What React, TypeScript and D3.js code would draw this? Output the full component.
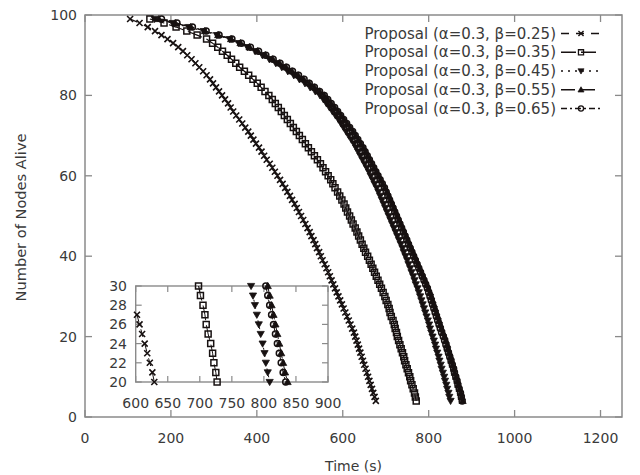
import React from 'react';
import * as d3 from 'd3';

// Number of nodes alive for each recorded death event (99 down to 4)
const nodesAlive: number[] = d3.range(99, 3, -1);

const labels = [
  'Proposal (α=0.3, β=0.25)',
  'Proposal (α=0.3, β=0.35)',
  'Proposal (α=0.3, β=0.45)',
  'Proposal (α=0.3, β=0.55)',
  'Proposal (α=0.3, β=0.65)',
];

// Time (s) at which the count drops to each value in nodesAlive
const timeB025 = [
  105, 127, 146, 163, 178, 192, 205,
  217, 228, 238, 248, 257, 266, 275, 283,
  291, 298, 305, 312, 319, 326, 333, 339, 345,
  352, 359, 366, 373, 380, 386, 392, 398,
  405, 411, 417, 423, 430, 436, 442, 448,
  454, 460, 466, 471, 477, 482, 488, 493,
  498, 503, 508, 513, 518, 523, 527,
  532, 536, 540, 545, 549, 553, 558, 562, 566, 570,
  574, 578, 582, 586, 590, 594, 598, 602,
  606, 610, 614, 618, 622, 626, 629,
  632, 635, 638, 641, 644, 647, 650, 653, 656, 659, 662, 665, 668, 671, 674, 677,
];
const timeB035 = [
  151, 184, 212, 237, 261, 283,
  297, 309, 320, 331, 341, 351, 360,
  371, 381, 391, 401, 410, 419, 428,
  436, 443, 450, 457, 464, 471, 478,
  485, 492, 499, 506, 513, 520, 527,
  534, 541, 548, 554, 560, 566,
  572, 577, 582, 588, 593, 598,
  603, 607, 611, 616, 620, 624, 629, 633, 637,
  641, 645, 649, 653, 658, 662, 666, 670, 674, 678,
  682, 686, 690, 694, 698,
  701, 705, 708, 710, 713, 717, 720, 722, 725, 727,
  730, 733, 736, 739, 742, 744, 747, 750, 753, 756, 758, 761, 764, 767, 769, 771,
];
const timeB045 = [
  162, 204, 242, 276, 307, 337, 358, 378, 396,
  413, 429, 444, 458, 472,
  486, 499, 512, 524, 536, 547,
  555, 562, 569, 576, 583, 590, 596, 602, 608,
  614, 620, 626, 631, 636,
  641, 646, 651, 656, 661, 665, 670, 674, 679, 683, 687, 691, 695,
  699, 703, 707, 711, 715, 719, 723, 727, 731, 735, 739, 742, 746, 750, 753, 757, 760, 764,
  767, 770, 774, 777, 780,
  783, 786, 789, 792, 795, 798, 801, 803, 806, 809,
  812, 815, 817, 820, 823, 825, 828, 830, 833, 836, 838, 841, 843, 846, 848, 851,
];
const timeB055 = [
  172, 210, 246, 279, 310, 340, 362, 383, 402,
  420, 437, 453, 468, 482,
  496, 509, 522, 534, 546, 557,
  565, 573, 581, 589, 596, 603, 610, 617, 624,
  630, 636, 642, 648, 653,
  658, 663, 668, 673, 678, 683, 688, 693, 698, 703, 707, 711, 715,
  719, 723, 727, 731, 735, 739, 743, 747, 751, 755, 759, 763, 767, 771, 775, 779, 783, 787,
  791, 795, 799, 803, 806,
  809, 812, 815, 818, 821, 824, 827, 830, 833, 837,
  840, 843, 845, 848, 851, 853, 856, 859, 861, 864, 867, 869, 872, 875, 877, 879,
];
const timeB065 = [
  178, 214, 250, 282, 312, 342, 364, 385, 404,
  421, 438, 454, 469, 483,
  497, 510, 522, 534, 546, 557,
  565, 573, 581, 588, 595, 602, 609, 616, 623,
  629, 635, 641, 647, 652,
  657, 662, 667, 672, 677, 682, 687, 692, 697, 701, 705, 709, 713,
  717, 721, 725, 729, 733, 737, 741, 745, 749, 753, 757, 761, 765, 769, 773, 777, 781, 785,
  789, 793, 797, 800, 803,
  806, 809, 812, 815, 818, 821, 824, 827, 830, 834,
  837, 840, 843, 846, 849, 852, 855, 858, 860, 863, 866, 868, 871, 874, 876, 878,
];

const seriesTimes = [timeB025, timeB035, timeB045, timeB055, timeB065];

const xTicks = [0, 200, 400, 600, 800, 1000, 1200];
const yTicks = [0, 20, 40, 60, 80, 100];
const insetXTicks = [600, 650, 700, 750, 800, 850, 900];
const insetYTicks = [20, 22, 24, 26, 28, 30];

const markerKinds = ['times', 'square', 'tridown', 'triup', 'circle'];
const dashes = ['8,7', '15,5', '2,5', '14,6', '6,3,2,3'];

const INK = '#171111';
const TXT = '#3a3a3a';
const AX = '#8a8a8a';
const FONT = '"DejaVu Sans", Verdana, sans-serif';

function Marker({ kind, x, y, s = 1 }: { kind: string; x: number; y: number; s?: number }) {
  const t = `translate(${x},${y}) scale(${s})`;
  if (kind === 'times')
    return <path transform={t} d="M-3,-3L3,3M-3,3L3,-3" stroke={INK} strokeWidth={1.6} fill="none" />;
  if (kind === 'square')
    return <path transform={t} d="M-3,-3H3V3H-3Z" stroke={INK} strokeWidth={1.5} fill="none" />;
  if (kind === 'tridown')
    return <path transform={t} d="M-3.6,-2.6L3.6,-2.6L0,3.6Z" fill={INK} stroke={INK} strokeWidth={0.8} />;
  if (kind === 'triup')
    return <path transform={t} d="M-3.6,2.6L3.6,2.6L0,-3.6Z" fill={INK} stroke={INK} strokeWidth={0.8} />;
  return <circle transform={t} cx={0} cy={0} r={3} stroke={INK} strokeWidth={1.5} fill="none" />;
}

export default function App() {
  const x = d3.scaleLinear().domain([0, 1250]).range([85, 622]);
  const y = d3.scaleLinear().domain([0, 100]).range([417, 15]);
  const ix = d3.scaleLinear().domain([600, 900]).range([135.7, 328]);
  const iy = d3.scaleLinear().domain([20, 30]).range([382, 286]);

  const data = seriesTimes.map((ts) => ts.map((t, i) => ({ t, v: nodesAlive[i] })));

  const line = d3.line<{ t: number; v: number }>().x((d) => x(d.t)).y((d) => y(d.v));
  const iline = d3.line<{ t: number; v: number }>().x((d) => ix(d.t)).y((d) => iy(d.v));

  const [x0, x1] = x.range();
  const [y0, y1] = y.range();
  const [ix0, ix1] = ix.range();
  const [iy0, iy1] = iy.range();

  const legendY = [33.5, 52.3, 71, 89.8, 108.5];

  return (
    <svg width={640} height={475} style={{ position: 'absolute', left: 0, top: 0, background: '#fff' }} fontFamily={FONT}>
      <defs>
        <clipPath id="insetClip">
          <rect x={ix0 - 5} y={iy1 - 5} width={ix1 - ix0 + 10} height={iy0 - iy1 + 10} />
        </clipPath>
      </defs>
      <rect x={0} y={0} width={640} height={475} fill="#fff" />

      {/* main frame */}
      <rect x={x0} y={y1} width={x1 - x0} height={y0 - y1} fill="none" stroke={AX} strokeWidth={1.5} />
      {xTicks.map((t) => (
        <g key={'xt' + t}>
          <line x1={x(t)} x2={x(t)} y1={y0} y2={y0 - 7} stroke={AX} strokeWidth={1.3} />
          <line x1={x(t)} x2={x(t)} y1={y1} y2={y1 + 7} stroke={AX} strokeWidth={1.3} />
          <text x={x(t)} y={443} textAnchor="middle" fontSize={14} fill={TXT}>{t}</text>
        </g>
      ))}
      {yTicks.map((v) => (
        <g key={'yt' + v}>
          <line x1={x0} x2={x0 + 7} y1={y(v)} y2={y(v)} stroke={AX} strokeWidth={1.3} />
          <line x1={x1} x2={x1 - 7} y1={y(v)} y2={y(v)} stroke={AX} strokeWidth={1.3} />
          <text x={77} y={y(v) + 5} textAnchor="end" fontSize={14} fill={TXT}>{v}</text>
        </g>
      ))}
      <text x={(x0 + x1) / 2} y={471} textAnchor="middle" fontSize={14} fill={TXT}>Time (s)</text>
      <text transform={`translate(26,217.5) rotate(-90)`} textAnchor="middle" fontSize={14.6} fill={TXT}>Number of Nodes Alive</text>

      {/* main series */}
      {data.map((d, si) => (
        <g key={'s' + si}>
          <path d={line(d) || ''} fill="none" stroke={INK} strokeWidth={1.2} strokeDasharray={dashes[si]} />
          {d.map((p, i) => (
            <Marker key={i} kind={markerKinds[si]} x={x(p.t)} y={y(p.v)} />
          ))}
        </g>
      ))}

      {/* legend */}
      {labels.map((lab, i) => (
        <g key={'lg' + i}>
          <text x={556} y={legendY[i] + 5} textAnchor="end" fontSize={15} fill={TXT}>{lab}</text>
          <line x1={561} x2={601} y1={legendY[i]} y2={legendY[i]} stroke={INK} strokeWidth={1.5} strokeDasharray={dashes[i]} />
          <Marker kind={markerKinds[i]} x={581} y={legendY[i]} s={0.85} />
        </g>
      ))}

      {/* inset */}
      <rect x={ix0} y={iy1} width={ix1 - ix0} height={iy0 - iy1} fill="#fff" stroke={AX} strokeWidth={1.4} />
      {insetXTicks.map((t) => (
        <g key={'ixt' + t}>
          <line x1={ix(t)} x2={ix(t)} y1={iy0} y2={iy0 - 6} stroke={AX} strokeWidth={1.2} />
          <line x1={ix(t)} x2={ix(t)} y1={iy1} y2={iy1 + 6} stroke={AX} strokeWidth={1.2} />
          <text x={ix(t)} y={408} textAnchor="middle" fontSize={14} fill={TXT}>{t}</text>
        </g>
      ))}
      {insetYTicks.map((v) => (
        <g key={'iyt' + v}>
          <line x1={ix0} x2={ix0 + 6} y1={iy(v)} y2={iy(v)} stroke={AX} strokeWidth={1.2} />
          <line x1={ix1} x2={ix1 - 6} y1={iy(v)} y2={iy(v)} stroke={AX} strokeWidth={1.2} />
          <text x={127} y={iy(v) + 5} textAnchor="end" fontSize={14} fill={TXT}>{v}</text>
        </g>
      ))}
      <g clipPath="url(#insetClip)">
        {data.map((d, si) => {
          const sub = d.filter((p) => p.v >= 20 && p.v <= 30 && p.t >= 600 && p.t <= 900);
          return (
            <g key={'is' + si}>
              <path d={iline(sub) || ''} fill="none" stroke={INK} strokeWidth={1} strokeDasharray={dashes[si]} />
              {sub.map((p, i) => (
                <Marker key={i} kind={markerKinds[si]} x={ix(p.t)} y={iy(p.v)} />
              ))}
            </g>
          );
        })}
      </g>
    </svg>
  );
}
